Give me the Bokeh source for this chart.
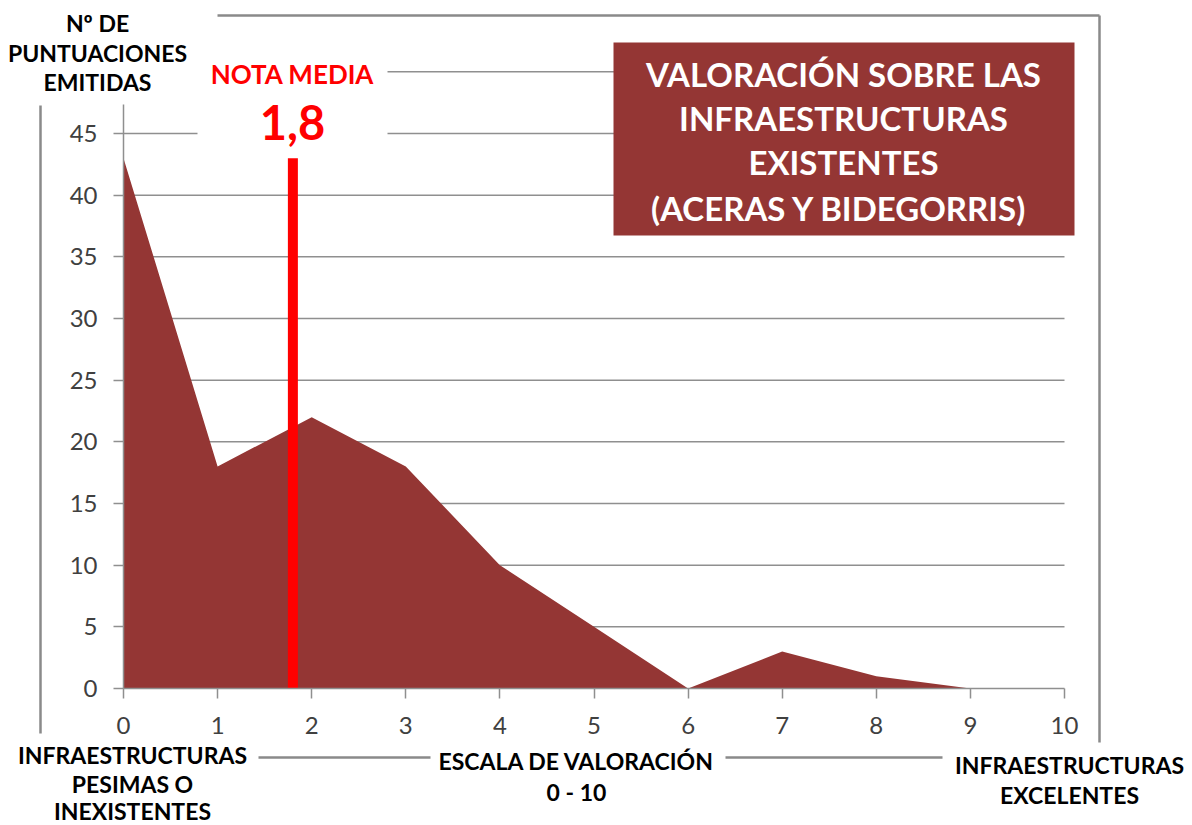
from bokeh.plotting import figure
from bokeh.models import Range1d, FixedTicker, Label, LinearAxis
from bokeh.embed import file_html
from bokeh.resources import INLINE

# ---------------- data ----------------
scores = [0, 1, 2, 3, 4, 5, 6, 7, 8, 9, 10]
counts = [43, 18, 22, 18, 10, 5, 0, 3, 1, 0, 0]
x_ticks = [0, 1, 2, 3, 4, 5, 6, 7, 8, 9, 10]
y_ticks = [0, 5, 10, 15, 20, 25, 30, 35, 40, 45]
grid_levels = [5, 10, 15, 20, 25, 30, 35, 40, 45, 50]
mean_score = 1.8
mean_line_top = 43
mean_text = "1,8"
mean_title = "NOTA MEDIA"
title_lines = ["VALORACIÓN SOBRE LAS", "INFRAESTRUCTURAS", "EXISTENTES", " (ACERAS Y BIDEGORRIS)"]
ylabel_lines = ["Nº DE", "PUNTUACIONES", "EMITIDAS"]
xlabel_lines = ["ESCALA DE VALORACIÓN", "0 - 10"]
low_lines = ["INFRAESTRUCTURAS", "PESIMAS O", "INEXISTENTES"]
high_lines = ["INFRAESTRUCTURAS", "EXCELENTES"]

# ---------------- layout helpers (page pixels -> data) ----------------
PX_X0, PX_PER_X = 123.0, 94.1
PX_Y0, PX_PER_Y = 688.0, 12.333
W, H = 1192, 825
ORG = 0  # page offset of the canvas


def dx(px):
    return (px - PX_X0) / PX_PER_X


def dy(py):
    return (PX_Y0 - py) / PX_PER_Y


FONT = "Lato"
AREA = "#943634"
GRID = "#8f8f8f"
FRAME = "#8a8a8a"

p = figure(width=W, height=H,
           x_range=Range1d(dx(ORG), dx(ORG + W)),
           y_range=Range1d(dy(ORG + H), dy(ORG)),
           output_backend="svg", toolbar_location=None,
           min_border=0, x_axis_type=None, y_axis_type=None,
           outline_line_color=None, title=None)
p.background_fill_color = "white"
p.border_fill_color = "white"

# outer chart frame (interrupted by the text boxes)
fx0 = [dx(217), dx(1099), dx(258), dx(725), dx(40)]
fy0 = [dy(15), dy(15), dy(757), dy(757), dy(105)]
fx1 = [dx(1099), dx(1099), dx(430), dx(942), dx(40)]
fy1 = [dy(15), dy(742), dy(757), dy(757), dy(733)]
p.segment(x0=fx0, y0=fy0, x1=fx1, y1=fy1, line_color=FRAME, line_width=2.5)

# gridlines
gx0, gx1, gy = [], [], []
for lv in grid_levels:
    if lv < 45:
        parts = [(0, 10)]
    elif lv == 45:
        parts = [(0, dx(197)), (dx(387), 10)]
    else:
        parts = [(dx(387), 10)]
    for a, b in parts:
        gx0.append(a)
        gx1.append(b)
        gy.append(lv)
p.segment(x0=gx0, y0=gy, x1=gx1, y1=gy, line_color=GRID, line_width=1.5)

# area
p.varea(x=scores, y1=[0] * len(scores), y2=counts, fill_color=AREA)

# mean line
p.segment(x0=[mean_score], y0=[0], x1=[mean_score], y1=[mean_line_top],
          line_color="#ff0000", line_width=10)

# title box
p.quad(left=[dx(613)], right=[dx(1074)], top=[dy(42)], bottom=[dy(235)],
       fill_color=AREA, line_color=None)

# axes
xa = LinearAxis(fixed_location=0, bounds=(0, 10), ticker=FixedTicker(ticks=x_ticks))
ya = LinearAxis(fixed_location=0, bounds=(0, 47.35), ticker=FixedTicker(ticks=y_ticks))
for ax in (xa, ya):
    ax.axis_line_color = GRID
    ax.axis_line_width = 1.5
    ax.major_tick_line_color = GRID
    ax.major_tick_line_width = 1.5
    ax.major_tick_out = 10
    ax.major_tick_in = 0
    ax.minor_tick_line_color = None
    ax.major_label_text_font = FONT
    ax.major_label_text_font_size = "24px"
    ax.major_label_text_color = "#404040"
xa.major_label_standoff = 18
ya.major_label_standoff = 16
p.add_layout(xa, "below")
p.add_layout(ya, "left")


def add_text(lines, cx, cys, size, color="black", style="bold"):
    for t, cy in zip(lines, cys):
        p.add_layout(Label(x=dx(cx), y=dy(cy), text=t, text_align="center",
                           text_baseline="middle", text_font=FONT,
                           text_font_style=style, text_font_size=size,
                           text_color=color))


add_text(ylabel_lines, 97, [22, 52, 81], "23px")
add_text([mean_title], 292, [73], "26px", color="#ff0000")
add_text([mean_text], 292, [122], "47px", color="#ff0000")
add_text(title_lines, 843, [73, 117, 161, 207], "33px", color="white")
add_text(xlabel_lines, 576, [760, 791], "23px")
add_text(low_lines, 132, [754, 783, 810], "23px")
add_text(high_lines, 1069, [764, 794], "23px")

open("out.html", "w").write(file_html(p, INLINE))
